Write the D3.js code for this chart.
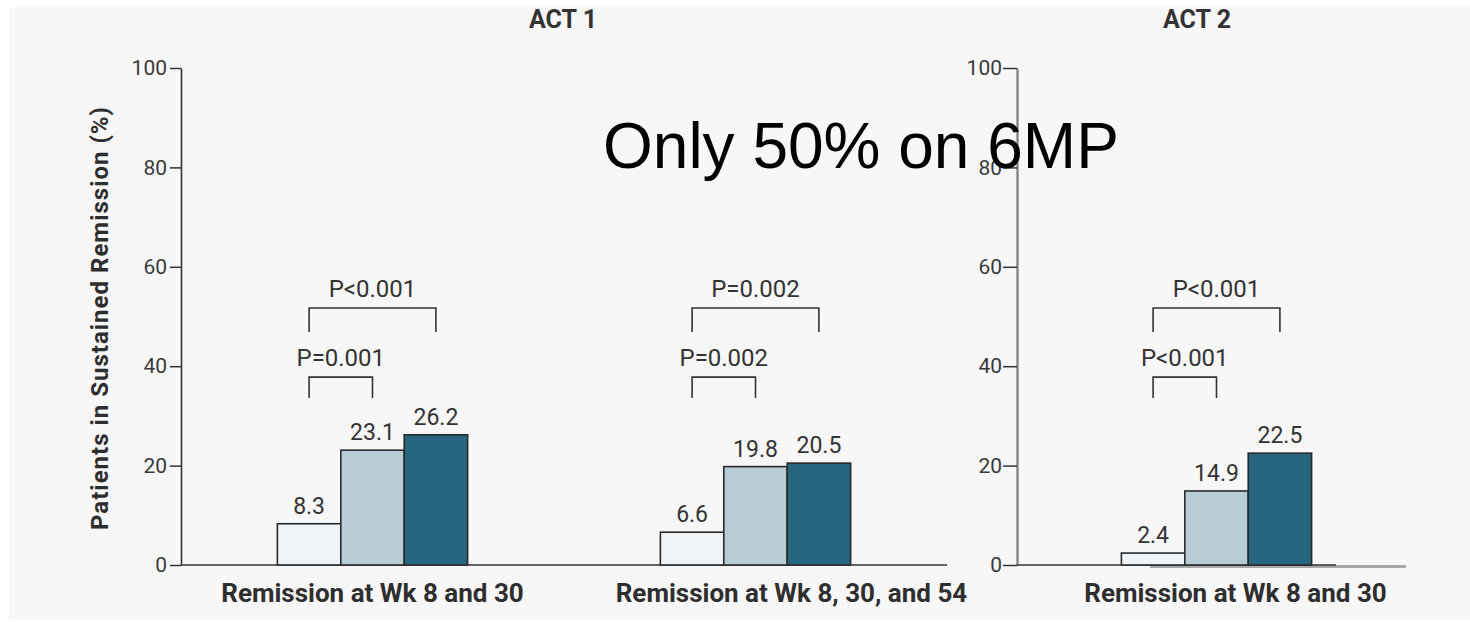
<!DOCTYPE html>
<html>
<head>
<meta charset="utf-8">
<script src="https://cdn.jsdelivr.net/npm/d3@7"></script>
<style>
  html, body { margin: 0; padding: 0; background: #ffffff; }
  svg { display: block; }
  text { font-family: Roboto, "Open Sans", sans-serif; }
</style>
</head>
<body>
<svg id="chart" width="1470" height="622"></svg>
<script>
// Sustained remission rates (%), three treatment arms per group
const arms = ["Placebo", "Infliximab 5 mg/kg", "Infliximab 10 mg/kg"];
const panelTitles = ["ACT 1", "ACT 2"];

const act1Groups = ["Remission at Wk 8 and 30", "Remission at Wk 8, 30, and 54"];
const act1Rates = [[8.3, 23.1, 26.2], [6.6, 19.8, 20.5]];
const act1PValues = [["P=0.001", "P<0.001"], ["P=0.002", "P=0.002"]];

const act2Groups = ["Remission at Wk 8 and 30"];
const act2Rates = [[2.4, 14.9, 22.5]];
const act2PValues = [["P<0.001", "P<0.001"]];

const yTicks = [0, 20, 40, 60, 80, 100];
const yAxisTitle = "Patients in Sustained Remission (%)";
const noteText = "Only 50% on 6MP";

const svg = d3.select("#chart");
const armColors = d3.scaleOrdinal().domain(arms).range(["#eef4f8", "#b8ccd7", "#27667f"]);
const ink = "#333333";

// light panel behind the figure
svg.append("rect").attr("x", 9).attr("y", 7).attr("width", 1461).attr("height", 613)
  .attr("fill", "#f7f7f7");

const y = d3.scaleLinear().domain([0, 100]).range([565, 68]);

// bracket levels in data units: [top, leg end]
const bracketLow = [37.8, 33.6];
const bracketHigh = [51.7, 46.9];

function drawPanel(cfg) {
  const g = svg.append("g");

  // y axis
  const axis = g.append("g")
    .attr("transform", `translate(${cfg.axisX},0)`)
    .call(d3.axisLeft(y).tickValues(yTicks).tickSize(cfg.tickLen).tickSizeOuter(0).tickPadding(cfg.tickPad));
  axis.select(".domain").attr("stroke", cfg.axisColor).attr("stroke-width", cfg.axisWidth);
  axis.selectAll(".tick line").attr("stroke", ink).attr("stroke-width", 1.5);
  axis.selectAll(".tick text")
    .attr("fill", "#3a3a3a").style("font-size", "21px").style("font-family", "Roboto, sans-serif");

  // panel title
  g.append("text").attr("x", cfg.titleX).attr("y", 28).attr("text-anchor", "middle")
    .attr("fill", ink).style("font-size", "25px").style("font-weight", "700")
    .text(cfg.title);

  const x0 = d3.scaleBand().domain(cfg.groups).range(cfg.groupRange);
  const x1 = d3.scaleBand().domain(arms).range([0, x0.bandwidth()]).paddingOuter(1.52);
  const bw = x1.bandwidth();

  // baseline
  cfg.baselines.forEach(b => {
    g.append("line").attr("x1", b.from).attr("x2", b.to)
      .attr("y1", y(0) + (b.dy || 0)).attr("y2", y(0) + (b.dy || 0))
      .attr("stroke", b.color).attr("stroke-width", b.width);
  });

  cfg.groups.forEach((grp, gi) => {
    const gx = x0(grp);
    const vals = cfg.rates[gi];

    g.selectAll(null).data(vals).enter().append("rect")
      .attr("x", (d, i) => gx + x1(arms[i]))
      .attr("y", d => y(d))
      .attr("width", bw)
      .attr("height", d => y(0) - y(d))
      .attr("fill", (d, i) => armColors(arms[i]))
      .attr("stroke", "#2a2a2a").attr("stroke-width", 1.6);

    g.selectAll(null).data(vals).enter().append("text")
      .attr("x", (d, i) => gx + x1(arms[i]) + bw / 2)
      .attr("y", d => y(d) - 10)
      .attr("text-anchor", "middle").attr("fill", ink)
      .style("font-size", "23px")
      .text(d => d.toFixed(1));

    // significance brackets: arm 0 vs arm 1 (low), arm 0 vs arm 2 (high)
    const cx = i => gx + x1(arms[i]) + bw / 2;
    [[1, bracketLow, cfg.pvals[gi][0]], [2, bracketHigh, cfg.pvals[gi][1]]].forEach(([j, lv, label]) => {
      const xa = cx(0), xb = cx(j);
      g.append("path")
        .attr("d", `M${xa},${y(lv[1])}V${y(lv[0])}H${xb}V${y(lv[1])}`)
        .attr("fill", "none").attr("stroke", ink).attr("stroke-width", 1.6);
      g.append("text").attr("x", (xa + xb) / 2).attr("y", y(lv[0]) - 11)
        .attr("text-anchor", "middle").attr("fill", ink)
        .style("font-size", "24px")
        .text(label);
    });

    // group label
    g.append("text")
      .attr("x", gx + x0.bandwidth() / 2 + cfg.labelShift[gi])
      .attr("y", 602).attr("text-anchor", "middle").attr("fill", "#2e2e2e")
      .style("font-size", "26px").style("font-weight", "700")
      .text(grp);
  });
}

drawPanel({
  title: panelTitles[0], titleX: 563,
  axisX: 181, axisColor: ink, axisWidth: 1.6, tickLen: 11, tickPad: 3,
  groups: act1Groups, rates: act1Rates, pvals: act1PValues,
  groupRange: [181, 947], labelShift: [0, 36],
  baselines: [{ from: 181, to: 947, color: ink, width: 1.6 }]
});

drawPanel({
  title: panelTitles[1], titleX: 1197,
  axisX: 1017, axisColor: "#7c7c7c", axisWidth: 2.2, tickLen: 14, tickPad: 1,
  groups: act2Groups, rates: act2Rates, pvals: act2PValues,
  groupRange: [1025, 1408], labelShift: [19],
  baselines: [
    { from: 1150, to: 1406, color: "#a8a8a8", width: 3, dy: 1.5 },
    { from: 1017, to: 1336, color: ink, width: 1.6 }
  ]
});

// y axis title
svg.append("text")
  .attr("transform", `translate(108,318) rotate(-90)`)
  .attr("text-anchor", "middle").attr("fill", "#2e2e2e")
  .style("font-size", "24px").style("font-weight", "700")
  .style("letter-spacing", "1px")
  .text(yAxisTitle);

// overlaid note
svg.append("text").attr("x", 603).attr("y", 168)
  .attr("fill", "#000").style("font-family", "'Liberation Sans', Arial, sans-serif")
  .style("font-size", "64px")
  .text(noteText);
</script>
</body>
</html>
